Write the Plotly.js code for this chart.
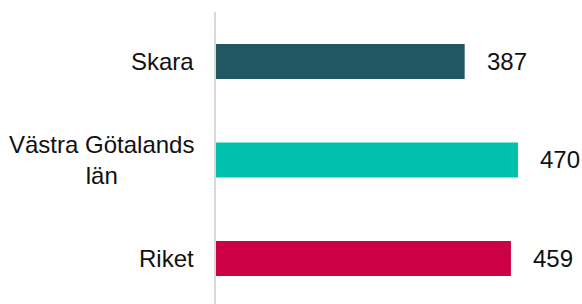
<!DOCTYPE html>
<html>
<head>
<meta charset="utf-8">
<script src="https://cdn.plot.ly/plotly-3.0.1.min.js"></script>
<style>html,body{margin:0;padding:0;background:#fff;}#chart{width:582px;height:304px;}</style>
</head>
<body>
<div id="chart"></div>
<script>
const categories = ["Skara", "Västra Götalands län", "Riket"];
const categoryLabels = ["Skara", "Västra Götalands<br>län", "Riket"];
const values = [387, 470, 459];
const colors = ["#215760", "#00C1AB", "#CC0044"];

const font = {family: "Liberation Sans, Arial, sans-serif", size: 24, color: "#111111"};

const trace = {
  type: "bar",
  orientation: "h",
  y: categories,
  x: values,
  marker: {color: colors},
  hoverinfo: "none"
};

const annotations = [];
categories.forEach((c, i) => {
  annotations.push({
    xref: "paper", yref: "y", x: 0, y: c, xanchor: "right", yanchor: "middle",
    xshift: -20, text: categoryLabels[i], align: "center", showarrow: false, font: font
  });
  annotations.push({
    xref: "x", yref: "y", x: values[i], y: c, xanchor: "left", yanchor: "middle",
    xshift: 20, text: String(values[i]), showarrow: false, font: font
  });
});

const layout = {
  width: 582, height: 304,
  margin: {l: 216, r: 0, t: 12, b: 0},
  paper_bgcolor: "#fff", plot_bgcolor: "#fff",
  bargap: 0.645,
  showlegend: false,
  font: font,
  xaxis: {range: [0, 569.6], visible: false, fixedrange: true},
  yaxis: {type: "category", range: [2.462, -0.5025], showline: true, linecolor: "#d9d9d9",
          linewidth: 2, showticklabels: false, showgrid: false, zeroline: false, ticks: "", fixedrange: true},
  annotations: annotations
};

Plotly.newPlot("chart", [trace], layout, {displayModeBar: false, staticPlot: true});
</script>
</body>
</html>
